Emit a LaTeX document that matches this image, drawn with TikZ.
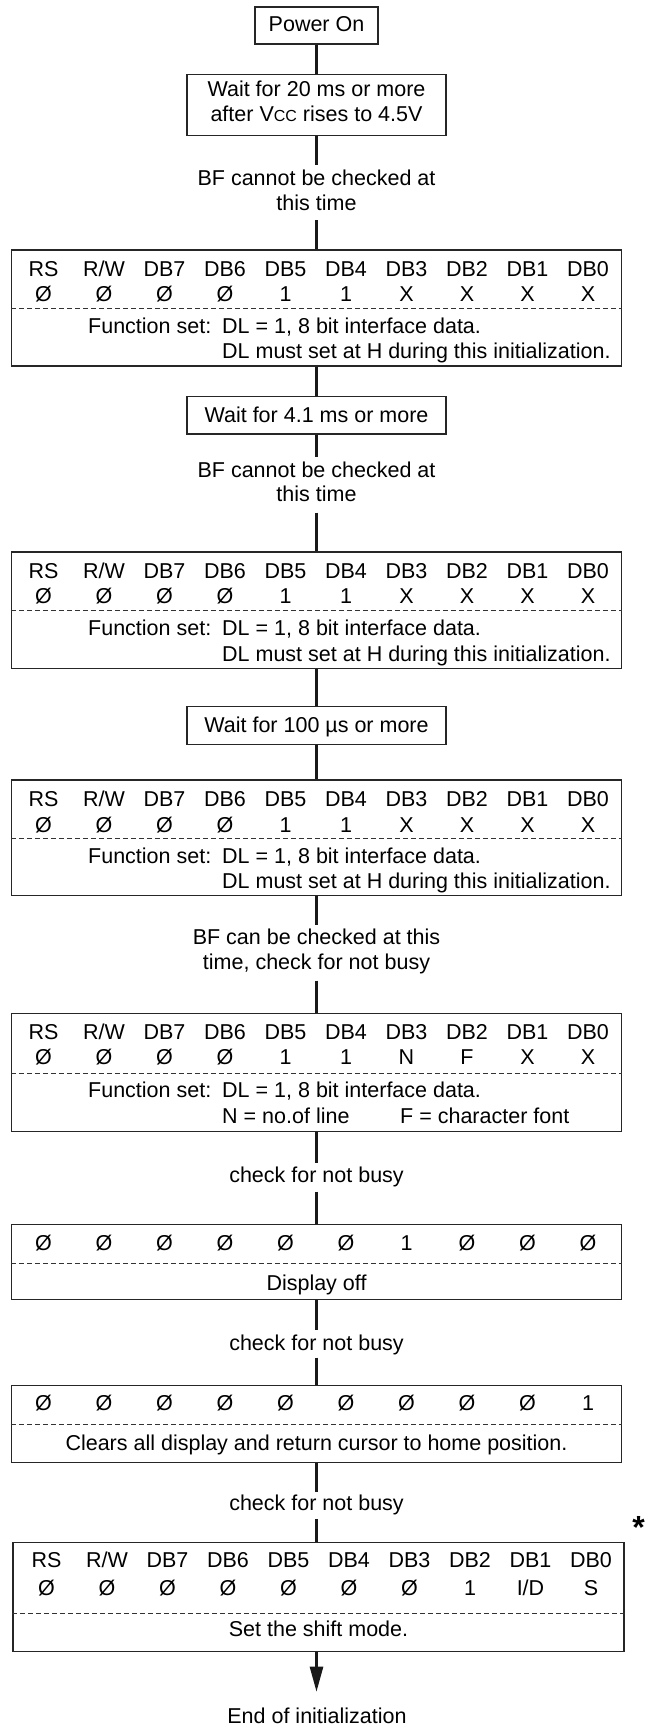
\documentclass[tikz,border=0pt]{standalone}
\usepackage{fontspec}
\setmainfont{Liberation Sans}
\usetikzlibrary{arrows.meta}
\newcommand{\bitrow}[4]{\foreach \t [count=\i from 0] in {#4} {\node[cell] (#1-\i) at ({#3+60.5*\i},#2) {\t};}}
\begin{document}
\begin{tikzpicture}[x=1pt,y=-1pt,
  txt/.style={font=\fontsize{21.5}{25}\selectfont, inner sep=0pt, anchor=base},
  cell/.style={txt},
  box/.style={draw=black!85, line width=1.1pt, inner sep=0pt},
  conn/.style={draw=black!90, line width=2.6pt},
  sepl/.style={draw=black!80, line width=0.9pt, dash pattern=on 5pt off 3pt}]
\useasboundingbox (0,0) rectangle (647,1726);

% Power On
\node[box, minimum width=123pt, minimum height=37pt] (pw) at (316.5,25.5) {};
\node[txt] (pwt) at (316.5,31.5) {Power On};

% Wait 20 ms
\node[box, minimum width=259pt, minimum height=61pt] (w20) at (316.5,105) {};
\node[txt] (w20a) at (316.5,97) {Wait for 20 ms or more};
\node[txt] (w20b) at (316.5,122) {after V{\fontsize{16}{16}\selectfont CC} rises to 4.5V};

% label 1
\node[txt] (l1a) at (316.5,185) {BF cannot be checked at};
\node[txt] (l1b) at (316.5,210.7) {this time};
\coordinate (g1a) at (316.5,165);
\coordinate (g1b) at (316.5,220);

% Box 1
\node[box, minimum width=610pt, minimum height=116pt] (b1) at (316.5,308) {};
\bitrow{h1}{276.7}{43.5}{RS,R/W,DB7,DB6,DB5,DB4,DB3,DB2,DB1,DB0}
\bitrow{v1}{301.7}{43.5}{Ø,Ø,Ø,Ø,1,1,X,X,X,X}
\draw[sepl] (b1.west |- 0,308) -- (b1.east |- 0,308);
\node[txt, anchor=base west] (f1a) at (88,333.3) {Function set:};
\node[txt, anchor=base west] (f1b) at (222,333.3) {DL = 1, 8 bit interface data.};
\node[txt, anchor=base west] (f1c) at (222,358.3) {DL must set at H during this initialization.};

% Wait 4.1 ms
\node[box, minimum width=259pt, minimum height=37.3pt] (w41) at (316.5,415.3) {};
\node[txt] (w41t) at (316.5,422.7) {Wait for 4.1 ms or more};

% label 2
\node[txt] (l2a) at (316.5,477.3) {BF cannot be checked at};
\node[txt] (l2b) at (316.5,501.7) {this time};
\coordinate (g2a) at (316.5,456.7);
\coordinate (g2b) at (316.5,512.7);

% Box 2
\node[box, minimum width=610pt, minimum height=116.7pt] (b2) at (316.5,610.35) {};
\bitrow{h2}{578.3}{43.5}{RS,R/W,DB7,DB6,DB5,DB4,DB3,DB2,DB1,DB0}
\bitrow{v2}{603.3}{43.5}{Ø,Ø,Ø,Ø,1,1,X,X,X,X}
\draw[sepl] (b2.west |- 0,610.7) -- (b2.east |- 0,610.7);
\node[txt, anchor=base west] (f2a) at (88,635) {Function set:};
\node[txt, anchor=base west] (f2b) at (222,635) {DL = 1, 8 bit interface data.};
\node[txt, anchor=base west] (f2c) at (222,661.7) {DL must set at H during this initialization.};

% Wait 100 us
\node[box, minimum width=259pt, minimum height=37.6pt] (w100) at (316.5,725.5) {};
\node[txt] (w100t) at (316.5,732.7) {Wait for 100 µs or more};

% Box 3
\node[box, minimum width=610pt, minimum height=115.5pt] (b3) at (316.5,837.75) {};
\bitrow{h3}{806.7}{43.5}{RS,R/W,DB7,DB6,DB5,DB4,DB3,DB2,DB1,DB0}
\bitrow{v3}{832.3}{43.5}{Ø,Ø,Ø,Ø,1,1,X,X,X,X}
\draw[sepl] (b3.west |- 0,838.5) -- (b3.east |- 0,838.5);
\node[txt, anchor=base west] (f3a) at (88,863.3) {Function set:};
\node[txt, anchor=base west] (f3b) at (222,863.3) {DL = 1, 8 bit interface data.};
\node[txt, anchor=base west] (f3c) at (222,888.3) {DL must set at H during this initialization.};

% label 3
\node[txt] (l3a) at (316.5,944) {BF can be checked at this};
\node[txt] (l3b) at (316.5,969.3) {time, check for not busy};
\coordinate (g3a) at (316.5,925);
\coordinate (g3b) at (316.5,980.7);

% Box 4
\node[box, minimum width=610pt, minimum height=118.4pt] (b4) at (316.5,1072.5) {};
\bitrow{h4}{1039}{43.5}{RS,R/W,DB7,DB6,DB5,DB4,DB3,DB2,DB1,DB0}
\bitrow{v4}{1064.3}{43.5}{Ø,Ø,Ø,Ø,1,1,N,F,X,X}
\draw[sepl] (b4.west |- 0,1073.3) -- (b4.east |- 0,1073.3);
\node[txt, anchor=base west] (f4a) at (88,1097.3) {Function set:};
\node[txt, anchor=base west] (f4b) at (222,1097.3) {DL = 1, 8 bit interface data.};
\node[txt, anchor=base west] (f4c) at (222,1123.3) {N = no.of line};
\node[txt, anchor=base west] (f4d) at (400,1123.3) {F = character font};

% check 1
\node[txt] (c1) at (316.5,1182.7) {check for not busy};
\coordinate (g4a) at (316.5,1163.3);
\coordinate (g4b) at (316.5,1191.7);

% Box 5
\node[box, minimum width=610pt, minimum height=75pt] (b5) at (316.5,1261.8) {};
\bitrow{v5}{1250.7}{43.5}{Ø,Ø,Ø,Ø,Ø,Ø,1,Ø,Ø,Ø}
\draw[sepl] (b5.west |- 0,1263.3) -- (b5.east |- 0,1263.3);
\node[txt] (d5) at (316.5,1290) {Display off};

% check 2
\node[txt] (c2) at (316.5,1350.7) {check for not busy};
\coordinate (g5a) at (316.5,1330);
\coordinate (g5b) at (316.5,1357.7);

% Box 6
\node[box, minimum width=610pt, minimum height=77.4pt] (b6) at (316.5,1424) {};
\bitrow{v6}{1410.7}{43.5}{Ø,Ø,Ø,Ø,Ø,Ø,Ø,Ø,Ø,1}
\draw[sepl] (b6.west |- 0,1424.3) -- (b6.east |- 0,1424.3);
\node[txt] (d6) at (316.5,1450.7) {Clears all display and return cursor to home position.};

% check 3
\node[txt] (c3) at (316.5,1510) {check for not busy};
\coordinate (g6a) at (316.5,1491.7);
\coordinate (g6b) at (316.5,1519.3);

% asterisk
\node[txt, font=\fontsize{32}{32}\selectfont\bfseries] (ast) at (638.5,1538) {*};

% Box 7
\node[box, minimum width=611pt, minimum height=109pt] (b7) at (318.5,1597) {};
\bitrow{h7}{1567.3}{46.5}{RS,R/W,DB7,DB6,DB5,DB4,DB3,DB2,DB1,DB0}
\bitrow{v7}{1595}{46.5}{Ø,Ø,Ø,Ø,Ø,Ø,Ø,1,I/D,S}
\draw[sepl] (b7.west |- 0,1613.7) -- (b7.east |- 0,1613.7);
\node[txt] (d7) at (318.5,1636.7) {Set the shift mode.};

% end
\node[txt, inner ysep=16pt] (endt) at (317,1723.5) {End of initialization};

% connectors
\draw[conn] (pw.south) -- (w20.north);
\draw[conn] (w20.south) -- (g1a);
\draw[conn] (g1b) -- (b1.north);
\draw[conn] (b1.south) -- (w41.north);
\draw[conn] (w41.south) -- (g2a);
\draw[conn] (g2b) -- (b2.north);
\draw[conn] (b2.south) -- (w100.north);
\draw[conn] (w100.south) -- (b3.north);
\draw[conn] (b3.south) -- (g3a);
\draw[conn] (g3b) -- (b4.north);
\draw[conn] (b4.south) -- (g4a);
\draw[conn] (g4b) -- (b5.north);
\draw[conn] (b5.south) -- (g5a);
\draw[conn] (g5b) -- (b6.north);
\draw[conn] (b6.south) -- (g6a);
\draw[conn] (g6b) -- (g6b |- b7.north);
\draw[conn, -{Triangle[length=25pt,width=13pt]}] (b7.south -| g6b) -- (endt.north -| g6b);
\end{tikzpicture}
\end{document}
